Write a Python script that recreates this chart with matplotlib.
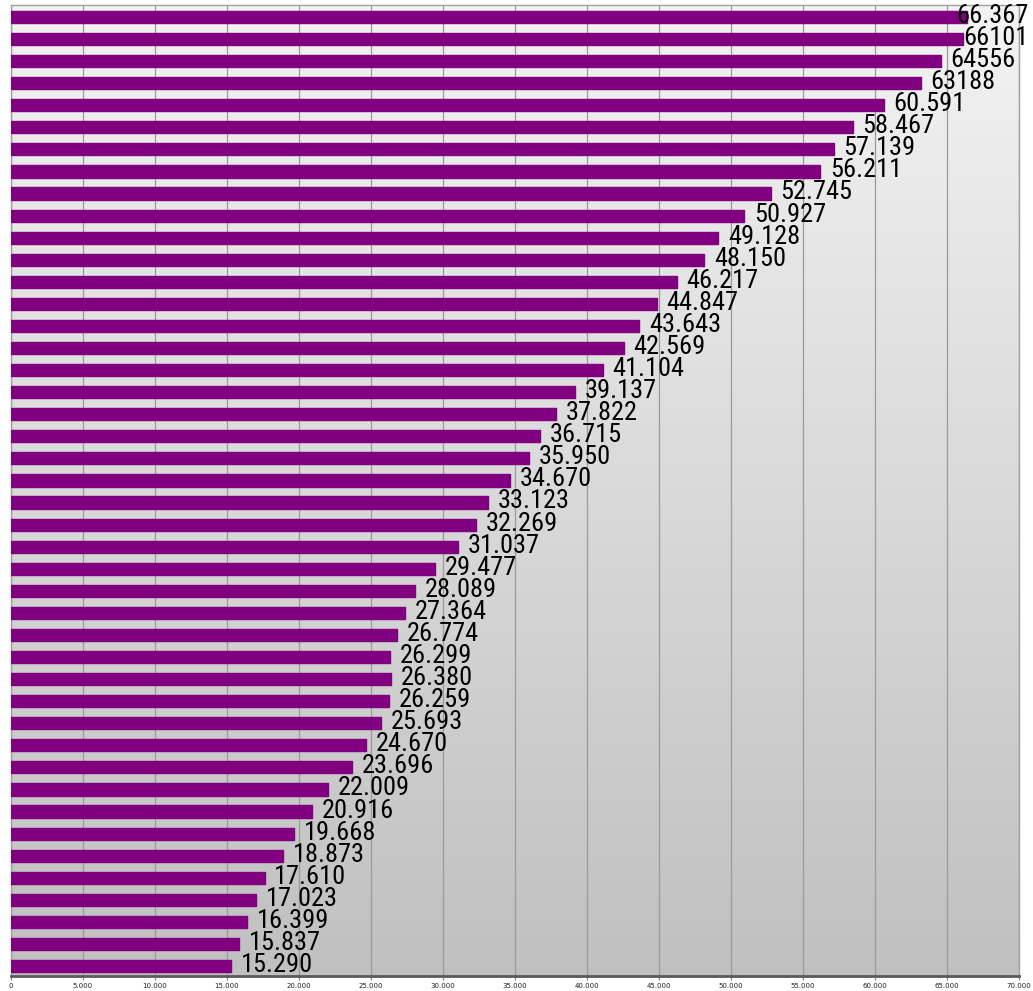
import numpy as np
import matplotlib
matplotlib.use("Agg")
import matplotlib.pyplot as plt
from matplotlib.ticker import FuncFormatter, MultipleLocator

# values, top bar first
values = [66367, 66101, 64556, 63188, 60591, 58467, 57139, 56211, 52745, 50927,
          49128, 48150, 46217, 44847, 43643, 42569, 41104, 39137, 37822, 36715,
          35950, 34670, 33123, 32269, 31037, 29477, 28089, 27364, 26774, 26299,
          26380, 26259, 25693, 24670, 23696, 22009, 20916, 19668, 18873, 17610,
          17023, 16399, 15837, 15290]
labels = ["66.367", "66101", "64556", "63188", "60.591", "58.467", "57.139",
          "56.211", "52.745", "50.927", "49.128", "48.150", "46.217", "44.847",
          "43.643", "42.569", "41.104", "39.137", "37.822", "36.715", "35.950",
          "34.670", "33.123", "32.269", "31.037", "29.477", "28.089", "27.364",
          "26.774", "26.299", "26.380", "26.259", "25.693", "24.670", "23.696",
          "22.009", "20.916", "19.668", "18.873", "17.610", "17.023", "16.399",
          "15.837", "15.290"]

label_font = ["Roboto Condensed", "Archivo Narrow", "Liberation Sans", "DejaVu Sans"]

n = len(values)
ypos = np.arange(n)[::-1]

fig = plt.figure(figsize=(10.33, 9.91), dpi=100)
ax = fig.add_axes([11 / 1033, 15 / 991, 1008 / 1033, 971 / 991])

# gradient background
grad = np.linspace(0, 1, 256).reshape(-1, 1)
ax.imshow(grad, cmap=matplotlib.colors.LinearSegmentedColormap.from_list("bg", ["#f3f3f3", "#c0c0c0"]),
          extent=[0, 70000, -0.45, n - 0.46], aspect="auto", origin="upper", zorder=0)

ax.barh(ypos, values, height=0.55, color="#800080", edgecolor="#800080",
        linewidth=1, joinstyle="round", zorder=3)

ax.set_xlim(0, 70000)
ax.set_ylim(-0.45, n - 0.46)
ax.xaxis.set_major_locator(MultipleLocator(5000))
ax.xaxis.set_major_formatter(FuncFormatter(lambda v, p: "0" if v == 0 else f"{int(v):,}".replace(",", ".")))
ax.tick_params(axis="x", labelsize=5, length=3, color="#808080", pad=2, labelcolor="#222222")
ax.set_yticks([])
ax.grid(axis="x", color="#9a9a9a", linewidth=0.9, zorder=1)
ax.set_axisbelow(True)

for s in ["left", "top", "right"]:
    ax.spines[s].set_color("#a0a0a0")
    ax.spines[s].set_linewidth(1)
ax.spines["bottom"].set_color("#5a5a5a")
ax.spines["bottom"].set_linewidth(2)

fig.canvas.draw()
renderer = fig.canvas.get_renderer()
W = fig.bbox.width
for y, v, lab in zip(ypos, values, labels):
    t = ax.annotate(lab, (v, y - 0.27), xytext=(7, 0), textcoords="offset points",
                    ha="left", va="baseline", fontsize=19, family=label_font,
                    color="black", zorder=5, annotation_clip=False)
    bb = t.get_window_extent(renderer)
    if bb.x1 > W - 4:
        # pull the label back inside the figure
        shift = (bb.x1 - (W - 4)) * 72 / fig.dpi
        t.set_position((7 - shift, 0))

fig.savefig("out.png", dpi=100)
